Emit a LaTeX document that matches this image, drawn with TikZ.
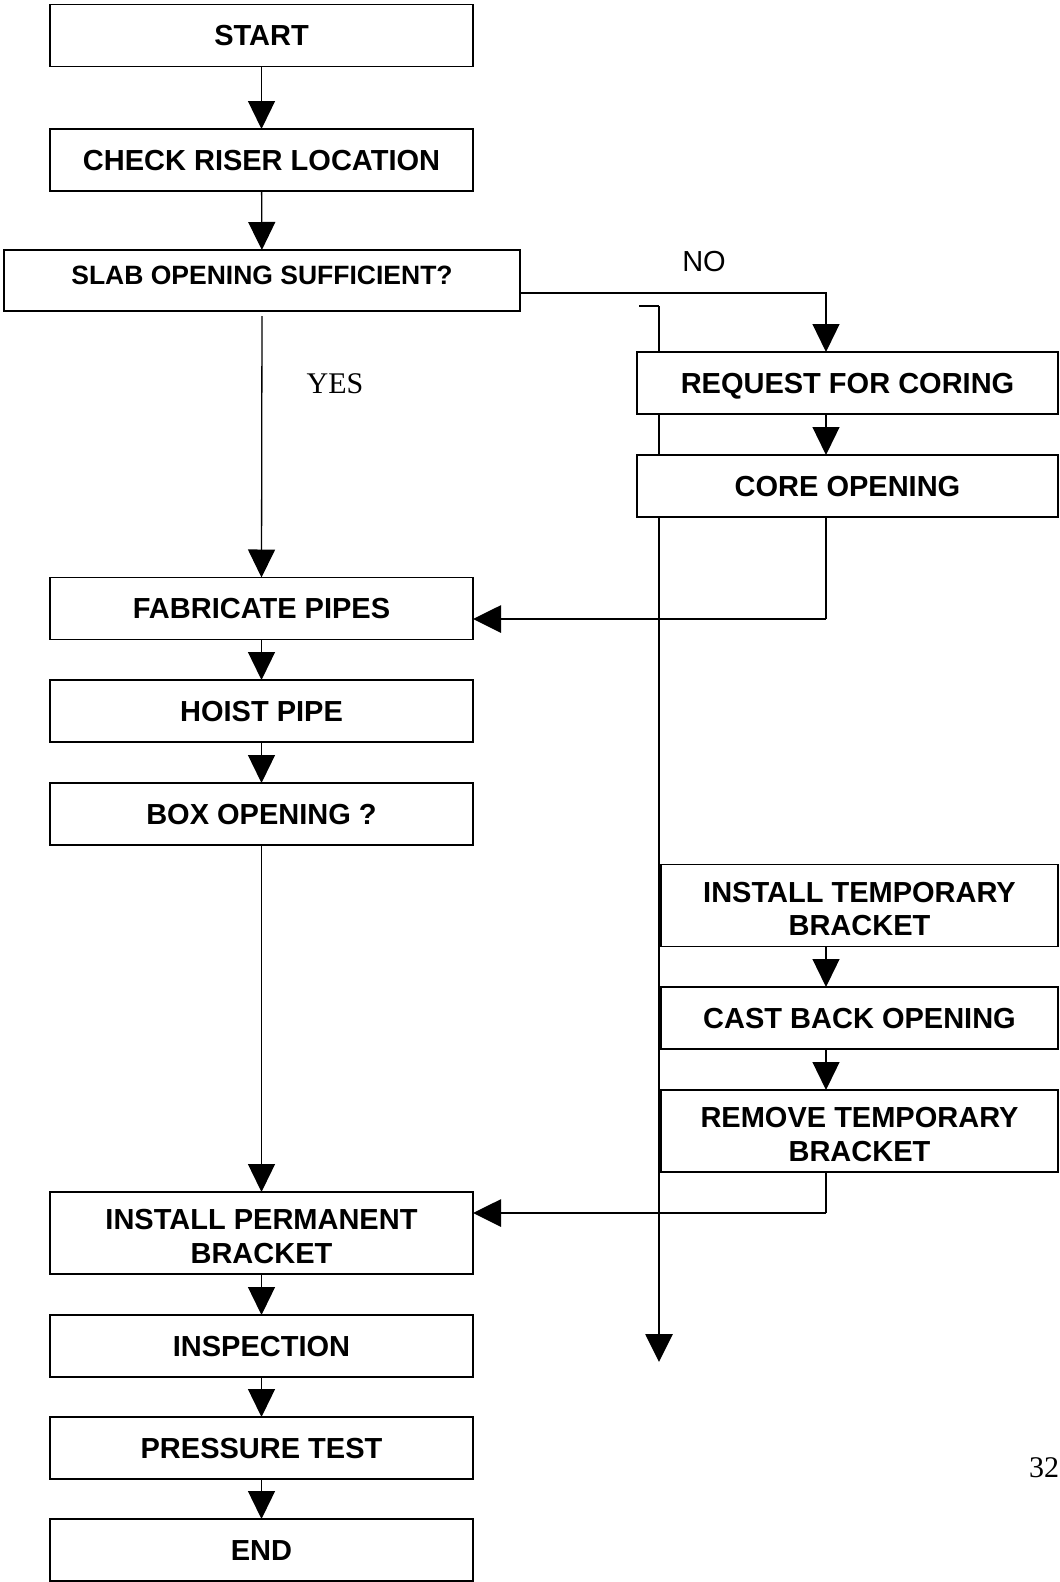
\documentclass[tikz,border=0pt]{standalone}
\usepackage{fontspec}
\setmainfont{Liberation Sans}
\newfontfamily\seriffam{Liberation Serif}
\usetikzlibrary{arrows.meta}
\begin{document}
\begin{tikzpicture}[x=1pt,y=-1pt,
  box/.style={draw, line width=1.3pt, fill=white, inner sep=0pt, outer sep=0pt,
    align=center, font=\fontsize{29}{33.5}\selectfont\bfseries},
  one/.style={text height=20.8pt, text depth=0pt},
  two/.style={text height=60pt, text depth=0pt},
  lbox/.style={box, one, minimum width=423pt, minimum height=62pt},
  lbox2/.style={box, two, minimum width=423pt, minimum height=82pt},
  rbox/.style={box, one, minimum width=421pt, minimum height=62pt},
  tbox/.style={box, one, minimum width=397pt, minimum height=62pt},
  tbox2/.style={box, two, minimum width=397pt, minimum height=82pt},
  tip/.style={-{Triangle[length=28pt,width=27pt]}},
  conn/.style={line width=1.3pt, tip},
  thinline/.style={line width=1.3pt},
  heavy/.style={line width=2.8pt},
  lbl/.style={inner sep=0pt, font=\fontsize{29}{33}\selectfont},
  slbl/.style={inner sep=0pt, font=\seriffam\fontsize{30}{34}\selectfont}
]
\useasboundingbox (0,0) rectangle (1060,1582);

% coordinates
\coordinate (col) at (826,0);
\coordinate (noline) at (826,293);
\coordinate (hook) at (639,306);
\coordinate (brtop) at (659,306);
\coordinate (brend) at (659,1362);
\coordinate (ret1) at (826,619);
\coordinate (ret2) at (826,1213);

% long bracket line (behind boxes)
\draw[thinline] (hook) -- (brtop);
\draw[heavy, tip] (brtop) -- (brend);

% left column
\node[lbox] (start) at (261.5,35.5) {START};
\node[lbox] (check) at (261.5,160) {CHECK RISER LOCATION};
\node[box, minimum width=516pt, minimum height=61pt, text height=8.8pt, text depth=0pt,
  font=\fontsize{26.5}{30}\selectfont\bfseries] (slab) at (262,280.5) {SLAB OPENING SUFFICIENT?};
\node[lbox] (fab) at (261.5,608.5) {FABRICATE PIPES};
\node[lbox] (hoist) at (261.5,711) {HOIST PIPE};
\node[lbox] (boxop) at (261.5,814) {BOX OPENING ?};
\node[lbox2] (perm) at (261.5,1233) {INSTALL PERMANENT\\BRACKET};
\node[lbox] (insp) at (261.5,1346) {INSPECTION};
\node[lbox] (press) at (261.5,1448) {PRESSURE TEST};
\node[lbox] (end) at (261.5,1550) {END};

% right column
\node[rbox] (req) at (847.5,383) {REQUEST FOR CORING};
\node[rbox] (core) at (847.5,486) {CORE OPENING};
\node[tbox2] (itemp) at (859.5,905.5) {INSTALL TEMPORARY\\BRACKET};
\node[tbox] (cast) at (859.5,1018) {CAST BACK OPENING};
\node[tbox2] (remove) at (859.5,1131) {REMOVE TEMPORARY\\BRACKET};

% labels
\node[lbl] (no) at (704,262) {NO};
\node[slbl] (yes) at (335,384) {YES};
\node[slbl] (page) at (1044,1468) {32};

% connectors left
\draw[conn] (start) -- (check);
\draw[conn] (check) -- (slab);
\draw[conn, shorten <=5pt] (slab.south) -- (fab.north);
\draw[conn] (fab) -- (hoist);
\draw[conn] (hoist) -- (boxop);
\draw[conn] (boxop.south) -- (perm.north);
\draw[conn] (perm) -- (insp);
\draw[conn] (insp) -- (press);
\draw[conn] (press) -- (end);

% NO branch
\draw[conn] (slab.east |- noline) -- (noline) -- (noline |- req.north);
\draw[conn] (col |- req.south) -- (col |- core.north);
\draw[thinline] (col |- core.south) -- (ret1);
\draw[heavy, tip] (ret1) -- (ret1 -| fab.east);

\draw[conn] (col |- itemp.south) -- (col |- cast.north);
\draw[conn] (col |- cast.south) -- (col |- remove.north);
\draw[thinline] (col |- remove.south) -- (ret2);
\draw[heavy, tip] (ret2) -- (ret2 -| perm.east);
\end{tikzpicture}
\end{document}
